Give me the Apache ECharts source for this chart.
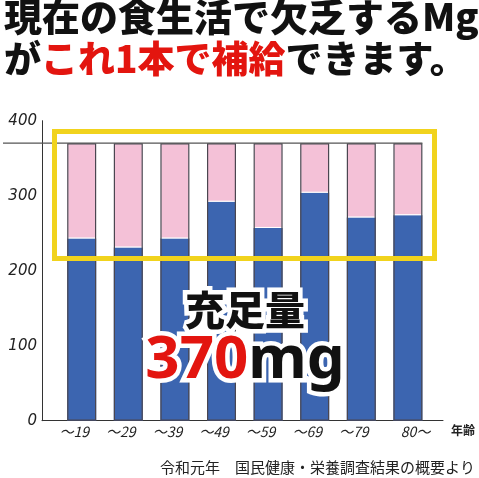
<!DOCTYPE html>
<html><head><meta charset="utf-8">
<script src="https://cdn.jsdelivr.net/npm/echarts/dist/echarts.min.js"></script>
<style>html,body{margin:0;padding:0;background:#fff}#c{width:479px;height:478px}</style>
</head><body><div id="c"></div>
<script>
const categories = ['～19', '～29', '～39', '～49', '～59', '～69', '～79', '80～'];
const intake = [243, 231, 243, 292, 257, 304, 271, 274];
const shortfall = [127, 139, 127, 78, 113, 66, 99, 96];
const recommended = [370, 370, 370, 370, 370, 370, 370, 370];
const yTicks = [0, 100, 200, 300, 400];
const targetValue = 370;

const CJK = '"Noto Sans CJK JP", sans-serif';
const BLUE = '#3c65b0', PINK = '#f4c1d7', YELLOW = '#f1d31d', RED = '#e3150f';

// centre the numeric part of each label under its bar
const categoryItems = categories.map(c => ({
  value: c,
  textStyle: {padding: c.startsWith('～') ? [0, 15, 0, 0] : [0, 0, 0, 15]}
}));

const chart = echarts.init(document.getElementById('c'), null, {renderer: 'canvas'});
const option = {
  animation: false,
  backgroundColor: '#fff',
  title: [
    {left: 4, top: -2, padding: 0, text: '現在の食生活で欠乏するMg',
     textStyle: {fontSize: 38, fontWeight: 900, color: '#111', fontFamily: CJK}},
    {left: 4, top: 40, padding: 0, text: '{k|が}{r|これ1本で補給}{k|できます。}',
     textStyle: {rich: {
       k: {fontSize: 37, fontWeight: 900, color: '#111', fontFamily: CJK},
       r: {fontSize: 37, fontWeight: 900, color: RED, fontFamily: CJK}
     }}}
  ],
  grid: [
    {left: 58.4, right: 47.8, top: 120.7, bottom: 57.3},
    {left: 42, right: 36, top: 120.7, bottom: 57.3}
  ],
  xAxis: [
    {type: 'category', gridIndex: 0, data: categoryItems,
     axisLine: {show: false}, axisTick: {show: false},
     axisLabel: {fontSize: 14, fontStyle: 'italic', color: '#222', margin: 4, fontFamily: CJK}},
    {type: 'value', gridIndex: 1, min: 0, max: 1,
     axisLine: {show: true, lineStyle: {color: '#333', width: 1}},
     axisTick: {show: false}, axisLabel: {show: false}, splitLine: {show: false}}
  ],
  yAxis: [
    {type: 'value', gridIndex: 0, min: yTicks[0], max: yTicks[yTicks.length - 1], interval: 100, offset: 16.4,
     axisLine: {show: true, lineStyle: {color: '#333', width: 1}},
     axisTick: {show: false}, splitLine: {show: false},
     axisLabel: {fontSize: 15, fontStyle: 'italic', color: '#222', margin: 5, fontFamily: 'DejaVu Sans, sans-serif'}},
    {type: 'value', gridIndex: 1, min: 0, max: 1, show: false}
  ],
  series: [
    {type: 'bar', name: 'intake', stack: 'mg', data: intake, barWidth: 29,
     itemStyle: {color: BLUE}},
    {type: 'bar', name: 'shortfall', stack: 'mg', data: shortfall, barWidth: 29,
     itemStyle: {color: PINK, borderColor: '#fff', borderWidth: 1}},
    {type: 'bar', name: 'outline', data: recommended, barWidth: 29, barGap: '-100%', z: 3,
     itemStyle: {color: 'rgba(0,0,0,0)', borderColor: '#4a4650', borderWidth: 1.2}}
  ]
};
chart.setOption(option);

const yTop = chart.convertToPixel({xAxisIndex: 0, yAxisIndex: 0}, [categories.length - 1, targetValue]);
const lineRight = yTop[0] + 14.5;
const lineY = yTop[1];

function bigText(x, y, text, rich) {
  const whiteRich = {};
  for (const k in rich) whiteRich[k] = Object.assign({}, rich[k], {fill: '#fff', stroke: '#fff', lineWidth: 9, lineJoin: 'round'});
  return [
    {type: 'text', z: 20, x: x, y: y, style: {text: text, rich: whiteRich, align: 'center', verticalAlign: 'middle'}},
    {type: 'text', z: 21, x: x, y: y, style: {text: text, rich: rich, align: 'center', verticalAlign: 'middle'}}
  ];
}

const graphics = [
  {type: 'line', z: 5, shape: {x1: 3, y1: lineY, x2: lineRight, y2: lineY},
   style: {stroke: '#555', lineWidth: 1.3}},
  {type: 'rect', z: 6, shape: {x: 54.5, y: 131.5, width: 380, height: 127},
   style: {fill: 'none', stroke: YELLOW, lineWidth: 5}},
  ...bigText(245, 310, '{k|充足量}', {k: {fontSize: 40, fontWeight: 900, fill: '#111', fontFamily: CJK}}),
  ...bigText(245, 361, '{r|370}{k|mg}', {
    r: {fontSize: 60, fontWeight: 'bold', fill: RED, fontFamily: '"Noto Sans", sans-serif'},
    k: {fontSize: 60, fontWeight: 'bold', fill: '#111', fontFamily: '"Noto Sans", sans-serif'}
  }),
  {type: 'text', z: 10, x: 475, y: 430, style: {text: '年齢', fontSize: 12, fontWeight: 'bold', fill: '#222', fontFamily: CJK, align: 'right', verticalAlign: 'middle'}},
  {type: 'text', z: 10, x: 475, y: 467, style: {text: '令和元年　国民健康・栄養調査結果の概要より', fontSize: 15, fill: '#222', fontFamily: CJK, align: 'right', verticalAlign: 'middle'}}
];
chart.setOption({graphic: graphics});
</script></body></html>
